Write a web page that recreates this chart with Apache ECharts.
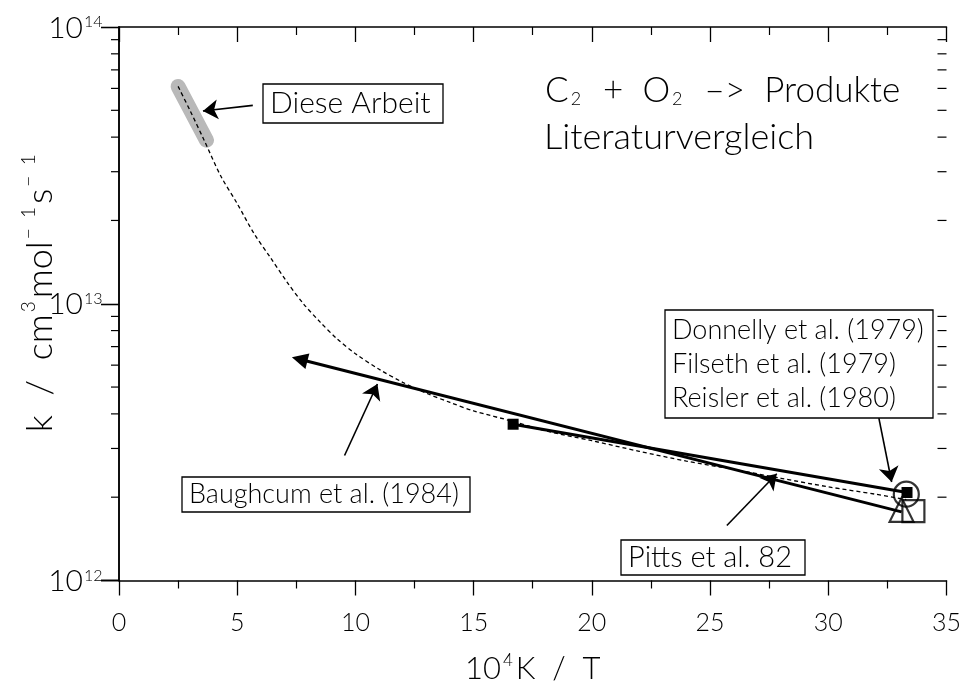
<!DOCTYPE html>
<html>
<head>
<meta charset="utf-8">
<script src="https://cdn.jsdelivr.net/npm/echarts@6/dist/echarts.min.js"></script>
<style>
  html, body { margin: 0; padding: 0; background: #fff; }
  #chart { width: 964px; height: 689px; }
</style>
</head>
<body>
<div id="chart"></div>
<script>
// Rate constant k (cm^3 mol^-1 s^-1) against 10^4 K / T for C2 + O2.

// Fitted expression (dashed curve)
const fitX = [2.5, 3.0, 3.6, 4.3, 5.0, 5.7, 6.4, 7.1, 7.8, 8.5, 9.2, 10.0, 11.0, 12.0, 13.0, 14.0, 15.0, 16.7, 18.0, 20.0, 22.0, 24.0, 26.0, 28.0, 30.0, 32.0, 33.3];
const fitK = [6.1e13, 5.0e13, 3.9e13, 2.9e13, 2.3e13, 1.8e13, 1.47e13, 1.2e13, 1.0e13, 8.6e12, 7.5e12, 6.6e12, 5.8e12, 5.2e12, 4.75e12, 4.4e12, 4.1e12, 3.75e12, 3.48e12, 3.2e12, 2.93e12, 2.7e12, 2.52e12, 2.34e12, 2.18e12, 2.05e12, 1.96e12];

// Range covered by the present measurements (grey band)
const thisWorkX = [2.5, 3.7];
const thisWorkK = [6.1e13, 3.9e13];

// Baughcum et al. (1984), extrapolated expression
const baughcumX = [7.64, 33.1];
const baughcumK = [6.3e12, 1.77e12];

// Pitts et al. 82
const pittsX = [16.67, 33.33];
const pittsK = [3.67e12, 2.08e12];

// Room temperature values
const donnellyXK = [33.3, 2.05e12];
const filsethXK = [33.1, 1.80e12];
const reislerXK = [33.6, 1.78e12];

// Axis ticks
const yExponents = [12, 13, 14];
const yMinorMantissas = [2, 3, 4, 5, 6, 7, 8, 9];

const zip = (xs, ys) => xs.map((x, i) => [x, ys[i]]);

const FONT = 'Lato';
const W = 300;
const TXT = '#000';

const minorTickValues = [];
yExponents.slice(0, -1).forEach(e => {
  yMinorMantissas.forEach(m => minorTickValues.push(m * Math.pow(10, e)));
});

const chart = echarts.init(document.getElementById('chart'), null, { renderer: 'canvas' });

const axisLine = { show: true, lineStyle: { color: '#000', width: 1.5 } };
const supStyle = (size, pad) => ({ fontFamily: FONT, fontWeight: W, fontSize: size, color: TXT, verticalAlign: 'top', padding: pad });
const baseStyle = size => ({ fontFamily: FONT, fontWeight: W, fontSize: size, color: TXT });

// framed label: rectangle plus text
function framedLabel(x, y, w, h, text, size, lineHeight) {
  return {
    type: 'group', x: x, y: y, z: 10,
    children: [
      { type: 'rect', shape: { x: 0, y: 0, width: w, height: h }, style: { fill: '#fff', stroke: '#000', lineWidth: 1.3 } },
      {
        type: 'text', x: 7, y: h / 2,
        style: {
          text: text, fontFamily: FONT, fontWeight: W, fontSize: size, lineHeight: lineHeight || size * 1.2,
          fill: TXT, align: 'left', verticalAlign: 'middle'
        }
      }
    ]
  };
}

// text pieces of the rotated axis title: [string, isSuperscript]
const yTitleParts = [['k  /  cm', false], ['3', true], ['mol', false], ['−  1', true], ['s', false], ['−  1', true]];

const option = {
  backgroundColor: '#fff',
  animation: false,
  grid: { left: 119, right: 16, top: 27, bottom: 96, containLabel: false },
  xAxis: [
    {
      type: 'value', min: 0, max: 35, interval: 5, position: 'bottom',
      axisLine: axisLine,
      axisTick: { show: true, inside: false, length: 15, lineStyle: { color: '#000', width: 1.3 } },
      minorTick: { show: true, splitNumber: 2, length: 8, lineStyle: { color: '#000', width: 1.2 } },
      splitLine: { show: false },
      axisLabel: { margin: 30, fontFamily: FONT, fontWeight: W, fontSize: 25, color: TXT },
      name: '{b|10}{sup|4}{b|K  /  T}',
      nameLocation: 'middle', nameGap: 72,
      nameTextStyle: {
        fontFamily: FONT, fontWeight: W, fontSize: 31, color: TXT,
        rich: { b: baseStyle(31), sup: supStyle(17, [0, 3, 15, 2]) }
      }
    },
    {
      type: 'value', min: 0, max: 35, interval: 5, position: 'top',
      axisLine: axisLine,
      axisTick: { show: true, inside: true, length: 15, lineStyle: { color: '#000', width: 1.3 } },
      minorTick: { show: true, splitNumber: 2, length: 8, lineStyle: { color: '#000', width: 1.2 } },
      splitLine: { show: false },
      axisLabel: { show: false }
    }
  ],
  yAxis: [
    {
      type: 'log', logBase: 10, min: 1e12, max: 1e14, position: 'left',
      axisLine: axisLine,
      axisTick: { show: true, inside: false, length: 18, lineStyle: { color: '#000', width: 1.3 } },
      splitLine: { show: false },
      axisLabel: { show: false }
    },
    {
      type: 'log', logBase: 10, min: 1e12, max: 1e14, position: 'right',
      axisLine: axisLine,
      axisTick: { show: true, inside: true, length: 18, lineStyle: { color: '#000', width: 1.3 } },
      splitLine: { show: false },
      axisLabel: { show: false }
    }
  ],
  series: [
    // minor log ticks on both vertical axes
    {
      type: 'custom', clip: false, silent: true, z: 5,
      data: minorTickValues.map(v => [v]),
      encode: { y: 0 },
      renderItem: (params, api) => {
        const v = api.value(0);
        const l = api.coord([0, v]);
        const r = api.coord([35, v]);
        const st = { stroke: '#000', lineWidth: 1.2 };
        return {
          type: 'group',
          children: [
            { type: 'line', shape: { x1: l[0] - 8, y1: l[1], x2: l[0], y2: l[1] }, style: st },
            { type: 'line', shape: { x1: r[0] - 9, y1: r[1], x2: r[0], y2: r[1] }, style: st }
          ]
        };
      }
    },
    {
      name: 'Diese Arbeit', type: 'line', data: zip(thisWorkX, thisWorkK),
      symbol: 'none', z: 2,
      lineStyle: { color: '#b9b9b9', width: 15, cap: 'round' }
    },
    {
      name: 'Fit', type: 'line', data: zip(fitX, fitK), smooth: 0.3,
      symbol: 'none', z: 3,
      lineStyle: { color: '#000', width: 1.3, type: [4, 3] }
    },
    {
      name: 'Baughcum et al. (1984)', type: 'lines', coordinateSystem: 'cartesian2d', z: 4,
      symbol: ['triangle', 'none'], symbolSize: [16, 16],
      lineStyle: { color: '#000', width: 3, opacity: 1 },
      data: [{ coords: zip(baughcumX, baughcumK) }]
    },
    {
      name: 'Pitts et al. 82', type: 'line', data: zip(pittsX, pittsK), z: 4,
      symbol: 'rect', symbolSize: 11, itemStyle: { color: '#000' },
      lineStyle: { color: '#000', width: 3 }
    },
    {
      name: 'Donnelly et al. (1979)', type: 'scatter', data: [donnellyXK], z: 6,
      symbol: 'circle', symbolSize: 25,
      itemStyle: { color: 'transparent', borderColor: '#000', borderWidth: 2.2 }
    },
    {
      name: 'Filseth et al. (1979)', type: 'scatter', data: [filsethXK], z: 6,
      symbol: 'triangle', symbolSize: 24,
      itemStyle: { color: 'transparent', borderColor: '#000', borderWidth: 2.2 }
    },
    {
      name: 'Reisler et al. (1980)', type: 'scatter', data: [reislerXK], z: 6,
      symbol: 'rect', symbolSize: 22,
      itemStyle: { color: 'transparent', borderColor: '#000', borderWidth: 2.2 }
    },
    // pointer arrows from the labels
    {
      type: 'lines', coordinateSystem: 'cartesian2d', z: 7,
      symbol: ['none', 'arrow'], symbolSize: [9, 15],
      lineStyle: { color: '#000', width: 1.6, opacity: 1 },
      data: [
        { coords: [[5.66, 5.21e13], [3.55, 4.97e13]] },
        { coords: [[9.54, 2.83e12], [10.93, 5.13e12]] },
        { coords: [[25.71, 1.58e12], [27.82, 2.43e12]] },
        { coords: [[32.14, 3.86e12], [32.68, 2.27e12]] }
      ]
    }
  ]
};

chart.setOption(option);

// ---- texts placed after layout: decade labels, titles, framed labels ----
const graphics = [];

// decade labels 10^n, positioned through the y axis scale
yExponents.forEach(e => {
  const py = chart.convertToPixel({ yAxisIndex: 0 }, Math.pow(10, e));
  const px = chart.convertToPixel({ xAxisIndex: 0 }, 0);
  const x0 = px - 36;
  graphics.push({
    type: 'text', x: x0, y: py + 1, z: 10,
    style: { text: '10', font: W + ' 30px ' + FONT, fill: TXT, align: 'right', verticalAlign: 'middle' }
  });
  graphics.push({
    type: 'text', x: x0 + 1, y: py - 13, z: 10,
    style: { text: String(e), font: W + ' 16px ' + FONT, fill: TXT, align: 'left', verticalAlign: 'top' }
  });
});

// rotated y-axis title, laid out piece by piece
(function () {
  const children = [];
  const ctx = document.createElement('canvas').getContext('2d');
  let pos = 0;
  yTitleParts.forEach(([t, sup]) => {
    const size = sup ? 19 : 36;
    ctx.font = W + ' ' + size + 'px ' + FONT;
    const w = ctx.measureText(t).width;
    children.push({
      type: 'text', x: pos + (sup ? 2 : 0), y: sup ? -21 : 0,
      style: { text: t, font: W + ' ' + size + 'px ' + FONT, fill: TXT, align: 'left', verticalAlign: sup ? 'top' : 'middle' }
    });
    pos += w + (sup ? 5 : 0);
  });
  const top = chart.convertToPixel({ yAxisIndex: 0 }, 1e14);
  const bottom = chart.convertToPixel({ yAxisIndex: 0 }, 1e12);
  const mid = (top + bottom) / 2 - 12;
  graphics.push({ type: 'group', x: 40, y: mid + pos / 2, rotation: Math.PI / 2, children: children, z: 10 });
})();

graphics.push({
  type: 'text', left: 545, top: 73, z: 10,
  style: {
    text: 'C{sub|2}  +  O{sub|2}  –>  Produkte',
    fontFamily: FONT, fontWeight: W, fontSize: 35, fill: TXT,
    rich: { sub: { fontFamily: FONT, fontWeight: W, fontSize: 18, fill: TXT, verticalAlign: 'bottom', padding: [16, 3, 0, 2] } }
  }
});
graphics.push({
  type: 'text', left: 544, top: 119, z: 10,
  style: { text: 'Literaturvergleich', fontFamily: FONT, fontWeight: W, fontSize: 36, fill: TXT }
});
graphics.push(framedLabel(263, 84, 180, 39, 'Diese Arbeit', 30));
graphics.push(framedLabel(665, 310, 268, 108, 'Donnelly et al. (1979)\nFilseth et al. (1979)\nReisler et al. (1980)', 27, 34));
graphics.push(framedLabel(182, 477, 288, 35, 'Baughcum et al. (1984)', 27));
graphics.push(framedLabel(621, 540, 184, 35, 'Pitts et al. 82', 29));

chart.setOption({ graphic: graphics });
</script>
</body>
</html>
